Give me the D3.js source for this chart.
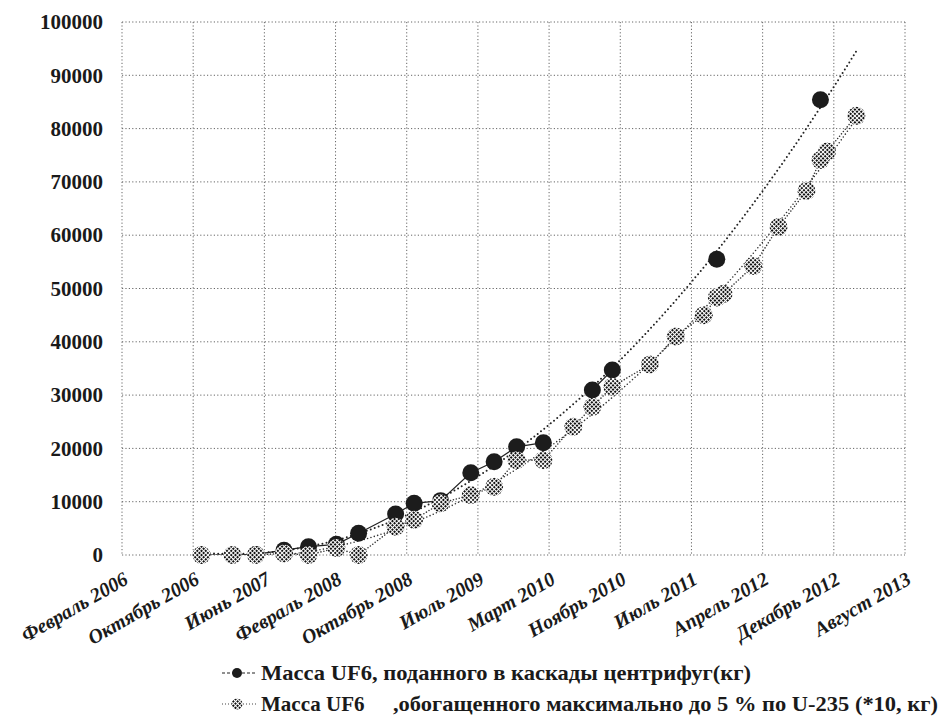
<!DOCTYPE html>
<html>
<head>
<meta charset="utf-8">
<script src="https://cdn.jsdelivr.net/npm/d3@7"></script>
<style>
  body { margin: 0; background: #fff; }
  svg { display: block; }
</style>
</head>
<body>
<svg id="chart" width="943" height="722"></svg>
<script>
// report dates (IAEA reports), shared by both series
const reportDates = [
  "2006-11-08", "2007-02-25", "2007-05-18", "2007-08-25", "2007-11-19",
  "2008-02-25", "2008-05-13", "2008-09-20", "2008-11-24", "2009-02-25",
  "2009-06-11", "2009-09-01", "2009-11-19", "2010-02-21", "2010-06-06",
  "2010-08-12", "2010-10-21", "2011-03-02", "2011-06-01", "2011-09-07",
  "2011-10-23", "2011-11-16", "2012-02-28", "2012-05-27", "2012-09-02",
  "2012-10-21", "2012-11-13", "2013-02-24"
];

// UF6 fed into cascades, kg (null = no value reported)
const feedMass = [
  0, 0, 100, 900, 1560,
  2000, 4070, 7700, 9700, 10200,
  15440, 17500, 20300, 21070, null,
  30950, 34700, null, null, null,
  55500, null, null, null, null,
  85400, null, null
];

// UF6 enriched up to 5% U-235, *10 kg
const enrichedMass = [
  0, 0, 0, 300, 0,
  1300, 0, 5300, 6600, 9700,
  11250, 12800, 17800, 17800, 24070,
  27800, 31570, 35760, 41000, 45000,
  48300, 49000, 54200, 61550, 68300,
  74100, 75700, 82400
];

const yTicks = [0, 10000, 20000, 30000, 40000, 50000, 60000, 70000, 80000, 90000, 100000];

const xTickLabels = [
  "Февраль 2006", "Октябрь 2006", "Июнь 2007", "Февраль 2008",
  "Октябрь 2008", "Июль 2009", "Март 2010", "Ноябрь 2010",
  "Июль 2011", "Апрель 2012", "Декабрь 2012", "Август 2013"
];

const legendFeed = "Масса UF6, поданного в каскады центрифуг(кг)";
const legendEnrichedA = "Масса UF6";
const legendEnrichedB = ",обогащенного максимально до 5 % по U-235 (*10, кг)";

// ------------------------------------------------------------
const svg = d3.select("#chart");
const FONT = "Liberation Serif, Times New Roman, Tinos, Noto Serif, FreeSerif, DejaVu Serif, serif";
const parse = d3.timeParse("%Y-%m-%d");
const dates = reportDates.map(parse);

const plotLeft = 122, plotRight = 905, plotTop = 22, plotBottom = 555;

// date axis: Excel major unit of 250 days
const start = parse("2006-02-02");
const end = d3.timeDay.offset(start, 250 * (xTickLabels.length - 1));
const xTickDates = xTickLabels.map((l, i) => d3.timeDay.offset(start, 250 * i));

const x = d3.scaleTime().domain([start, end]).range([plotLeft, plotRight]);
const y = d3.scaleLinear().domain([0, 100000]).range([plotBottom, plotTop]);

// halftone pattern for the grey markers
const defs = svg.append("defs");
const pat = defs.append("pattern")
  .attr("id", "halftone")
  .attr("patternUnits", "userSpaceOnUse")
  .attr("width", 3).attr("height", 3)
  .attr("patternTransform", "rotate(45)");
pat.append("rect").attr("width", 3).attr("height", 3).attr("fill", "#fff");
pat.append("rect").attr("width", 2).attr("height", 2).attr("fill", "#111");

defs.append("clipPath").attr("id", "plotclip")
  .append("rect")
  .attr("x", plotLeft).attr("y", plotTop)
  .attr("width", plotRight - plotLeft).attr("height", plotBottom - plotTop);

// gridlines
const grid = svg.append("g");
grid.selectAll(".hgrid")
  .data(yTicks)
  .enter().append("line")
  .attr("x1", plotLeft).attr("x2", plotRight)
  .attr("y1", d => y(d)).attr("y2", d => y(d))
  .attr("stroke", "#666").attr("stroke-width", 1)
  .attr("stroke-dasharray", "1.2,2.2");
grid.selectAll(".vgrid")
  .data(xTickDates)
  .enter().append("line")
  .attr("x1", d => x(d)).attr("x2", d => x(d))
  .attr("y1", plotTop).attr("y2", plotBottom)
  .attr("stroke", "#666").attr("stroke-width", 1)
  .attr("stroke-dasharray", "1.2,2.2");

// y axis
const yAxis = d3.axisLeft(y).tickValues(yTicks).tickSize(0).tickPadding(19)
  .tickFormat(d3.format("d"));
const yAxisGroup = svg.append("g")
  .attr("transform", "translate(" + plotLeft + ",0)")
  .call(yAxis)
  .attr("font-family", FONT)
  .attr("font-size", 21)
  .attr("font-weight", "bold");
yAxisGroup.select(".domain").remove();
yAxisGroup.selectAll("text").attr("fill", "#1a1a1a");

// x axis (rotated labels)
const xAxis = d3.axisBottom(x).tickValues(xTickDates).tickSize(0)
  .tickFormat((d, i) => xTickLabels[i]);
const xAxisGroup = svg.append("g")
  .attr("transform", "translate(0," + plotBottom + ")")
  .call(xAxis)
  .attr("font-family", FONT)
  .attr("font-size", 20)
  .attr("font-weight", "bold")
  .attr("font-style", "italic");
xAxisGroup.select(".domain").remove();
xAxisGroup.selectAll("text")
  .attr("x", 0).attr("y", 0).attr("dy", 0)
  .attr("text-anchor", "end")
  .attr("transform", "translate(7,28) rotate(-30)")
  .attr("fill", "#1a1a1a");

// polynomial trendline (least squares)
function polyFit(xs, ys, order) {
  const n = order + 1;
  const A = Array.from({length: n}, () => new Array(n + 1).fill(0));
  xs.forEach((xv, k) => {
    for (let i = 0; i < n; i++) {
      for (let j = 0; j < n; j++) A[i][j] += Math.pow(xv, i + j);
      A[i][n] += Math.pow(xv, i) * ys[k];
    }
  });
  for (let i = 0; i < n; i++) {
    let p = i;
    for (let r = i + 1; r < n; r++) if (Math.abs(A[r][i]) > Math.abs(A[p][i])) p = r;
    [A[i], A[p]] = [A[p], A[i]];
    for (let r = 0; r < n; r++) {
      if (r === i) continue;
      const f = A[r][i] / A[i][i];
      for (let c = i; c <= n; c++) A[r][c] -= f * A[i][c];
    }
  }
  const coef = A.map((row, i) => row[n] / row[i]);
  return xv => coef.reduce((s, c, i) => s + c * Math.pow(xv, i), 0);
}
const yrs = d => (d - start) / (365.25 * 864e5);

function trendPoints(values, order) {
  const pts = dates.map((d, i) => [d, values[i]]).filter(p => p[1] != null);
  const f = polyFit(pts.map(p => yrs(p[0])), pts.map(p => p[1]), order);
  const t0 = dates[0], t1 = dates[dates.length - 1];
  return d3.range(0, 101).map(k => {
    const d = new Date(+t0 + (t1 - t0) * k / 100);
    return [d, f(yrs(d))];
  });
}

const plot = svg.append("g").attr("clip-path", "url(#plotclip)");
const lineGen = d3.line()
  .defined(d => d[1] != null)
  .x(d => x(d[0])).y(d => y(d[1]));

const feedPts = dates.map((d, i) => [d, feedMass[i]]);
const enrPts = dates.map((d, i) => [d, enrichedMass[i]]);

// trendlines
plot.append("path")
  .datum(trendPoints(feedMass, 2))
  .attr("d", lineGen)
  .attr("fill", "none").attr("stroke", "#222").attr("stroke-width", 2)
  .attr("stroke-linecap", "round").attr("stroke-dasharray", "0,4.2");
plot.append("path")
  .datum(trendPoints(enrichedMass, 2))
  .attr("d", lineGen)
  .attr("fill", "none").attr("stroke", "#333").attr("stroke-width", 1.6)
  .attr("stroke-linecap", "round").attr("stroke-dasharray", "0,3.5");

// series connecting lines
plot.append("path")
  .datum(feedPts)
  .attr("d", lineGen)
  .attr("fill", "none").attr("stroke", "#222").attr("stroke-width", 1.2);
plot.append("path")
  .datum(enrPts)
  .attr("d", lineGen)
  .attr("fill", "none").attr("stroke", "#333").attr("stroke-width", 1.6)
  .attr("stroke-linecap", "round").attr("stroke-dasharray", "0,3");

// markers
svg.append("g").selectAll("circle")
  .data(feedPts.filter(p => p[1] != null))
  .enter().append("circle")
  .attr("cx", d => x(d[0])).attr("cy", d => y(d[1]))
  .attr("r", 8.5)
  .attr("fill", "#1c1c1c");
svg.append("g").selectAll("circle")
  .data(enrPts)
  .enter().append("circle")
  .attr("cx", d => x(d[0])).attr("cy", d => y(d[1]))
  .attr("r", 9)
  .attr("fill", "url(#halftone)");

// legend
const legend = svg.append("g")
  .attr("font-family", FONT)
  .attr("font-size", 21)
  .attr("font-weight", "bold")
  .attr("fill", "#1a1a1a");
legend.append("line")
  .attr("x1", 222).attr("x2", 257).attr("y1", 673).attr("y2", 673)
  .attr("stroke", "#222").attr("stroke-width", 1.2).attr("stroke-dasharray", "3,2");
legend.append("circle").attr("cx", 237).attr("cy", 673).attr("r", 5).attr("fill", "#1c1c1c");
legend.append("text")
  .text(legendFeed)
  .attr("x", 261).attr("y", 680)
  .attr("textLength", 490).attr("lengthAdjust", "spacingAndGlyphs");

legend.append("line")
  .attr("x1", 222).attr("x2", 257).attr("y1", 704).attr("y2", 704)
  .attr("stroke", "#444").attr("stroke-width", 1.2).attr("stroke-dasharray", "1,2");
legend.append("circle").attr("cx", 237).attr("cy", 704).attr("r", 5.5).attr("fill", "url(#halftone)");
legend.append("text")
  .text(legendEnrichedA)
  .attr("x", 261).attr("y", 711);
legend.append("text")
  .text(legendEnrichedB)
  .attr("x", 393).attr("y", 711)
  .attr("textLength", 545).attr("lengthAdjust", "spacingAndGlyphs");
</script>
</body>
</html>
